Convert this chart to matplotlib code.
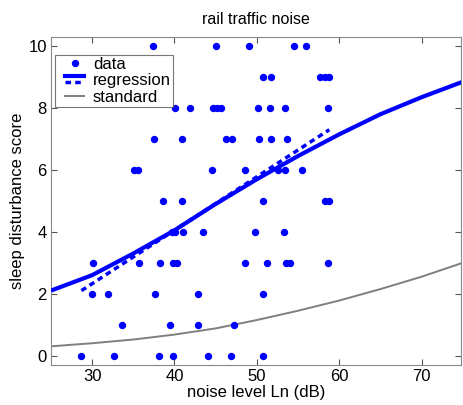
import matplotlib

matplotlib.use("Agg")
import numpy as np
from matplotlib import pyplot as plt
from matplotlib.lines import Line2D
from matplotlib.legend_handler import HandlerBase

plt.rcParams["font.family"] = ["Liberation Sans", "DejaVu Sans"]

BLUE = "#0000ff"
GRAY = "#7f7f7f"
DASH = (0, (1.6, 1.2))

# survey responses: noise level (dB) and sleep disturbance score
noise_db = np.array([
    37.35, 45.06, 49.04, 54.46, 56.0,
    50.72, 51.69, 57.7, 58.3, 58.8,
    40.08, 41.84, 44.7, 45.2, 45.7, 50.08, 51.65, 53.41, 58.67,
    37.47, 40.93, 46.23, 46.95, 50.28, 51.73, 53.66,
    35.12, 35.6, 44.6, 48.5, 52.6, 53.4, 55.45,
    38.59, 40.9, 50.72, 58.3, 58.8,
    39.7, 40.1, 41.0, 43.41, 49.76, 53.29,
    30.08, 35.66, 38.19, 39.8, 40.3, 48.55, 51.17, 53.5, 54.0, 58.67,
    29.96, 31.96, 37.67, 42.83, 50.76,
    33.6, 39.4, 42.9, 47.27,
    28.67, 32.69, 38.1, 39.84, 44.1, 46.83, 50.72,
])
score = np.array(
    [10] * 5 + [9] * 5 + [8] * 9 + [7] * 7 + [6] * 7 + [5] * 5
    + [4] * 6 + [3] * 10 + [2] * 5 + [1] * 4 + [0] * 7
)

# fitted curves sampled every 5 dB
curve_db = [25, 30, 35, 40, 45, 50, 55, 60, 65, 70, 75]
regression = [2.10, 2.60, 3.30, 4.05, 4.90, 5.70, 6.45, 7.15, 7.80, 8.35, 8.85]
standard = [0.30, 0.40, 0.52, 0.68, 0.88, 1.15, 1.45, 1.78, 2.15, 2.55, 3.00]

# straight-line fit over the measured range
linear_db = [28.7, 58.8]
linear_fit = [2.10, 7.30]


class KeyHandler(HandlerBase):
    """Short legend keys inset from the frame; 'stack' puts solid over dashed."""

    def __init__(self, kind):
        super().__init__()
        self.kind = kind

    def create_artists(self, legend, orig, xd, yd, w, h, fs, trans):
        x0, x1 = xd + 0.24 * w, xd + w - 0.24 * w
        ym = yd + h / 2
        if self.kind == "dot":
            return [Line2D([(x0 + x1) / 2], [ym], ls="none", marker="o",
                           ms=4.3, color=BLUE, transform=trans)]
        if self.kind == "stack":
            return [
                Line2D([x0, x1], [ym + h * 0.28] * 2, color=BLUE, lw=3,
                       transform=trans),
                Line2D([x0, x1], [ym - h * 0.22] * 2, color=BLUE, lw=2.5,
                       ls=DASH, transform=trans),
            ]
        return [Line2D([x0, x1], [ym] * 2, color=GRAY, lw=1.4, transform=trans)]


fig = plt.figure(figsize=(4.63, 4.05), dpi=100)
ax = fig.add_axes([0.110, 0.099, 0.886, 0.810])

ax.plot(noise_db, score, "o", color=BLUE, ms=4.3, mec=BLUE, zorder=4)
ax.plot(curve_db, regression, color=BLUE, lw=3, solid_capstyle="butt", zorder=3)
ax.plot(linear_db, linear_fit, color=BLUE, lw=2.5, ls=DASH, zorder=3)
ax.plot(curve_db, standard, color=GRAY, lw=1.4, zorder=2)

ax.set_xlim(25, 74.8)
ax.set_ylim(-0.3, 10.3)
ax.set_xticks([30, 40, 50, 60, 70])
ax.set_yticks([0, 2, 4, 6, 8, 10])
ax.tick_params(direction="in", length=4, width=0.8, labelsize=12,
               top=True, right=True, color="#555555", pad=3)
for s in ax.spines.values():
    s.set_color("#888888")
    s.set_linewidth(0.8)

ax.set_title("rail traffic noise", fontsize=11.5, pad=9)
ax.set_xlabel("noise level Ln (dB)", fontsize=12, labelpad=1)
ax.set_ylabel("sleep disturbance score", fontsize=12, labelpad=2)

h_data = Line2D([], [])
h_reg = Line2D([], [])
h_std = Line2D([], [])
leg = ax.legend([h_data, h_reg, h_std], ["data", "regression", "standard"],
                handler_map={h_data: KeyHandler("dot"),
                             h_reg: KeyHandler("stack"),
                             h_std: KeyHandler("line")},
                loc="upper left", bbox_to_anchor=(0.01, 0.945), fontsize=12,
                frameon=True, fancybox=False, borderpad=0.12, labelspacing=0.08,
                handlelength=2.1, handletextpad=0.05, borderaxespad=0.0)
leg.get_frame().set_edgecolor("#555555")
leg.get_frame().set_linewidth(0.8)

fig.savefig("out.png", dpi=100, facecolor="white")
